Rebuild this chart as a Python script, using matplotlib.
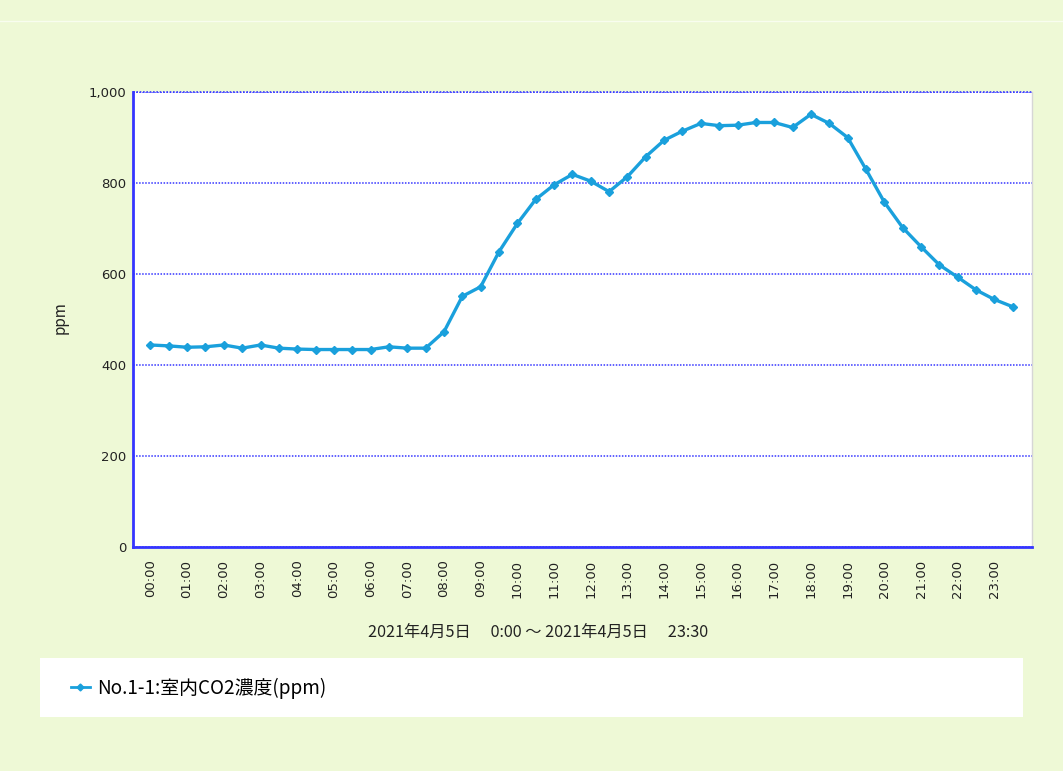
import matplotlib
matplotlib.use("Agg")
import matplotlib.pyplot as plt
from matplotlib.ticker import FuncFormatter
from matplotlib.patches import Rectangle
from matplotlib.lines import Line2D

plt.rcParams['font.family'] = ['Noto Sans CJK JP', 'DejaVu Sans']

# half-hourly readings, 00:00 .. 23:30
co2 = [444, 442, 439, 440, 444, 437, 444, 437, 435, 434, 434, 434,
       434, 440, 437, 437, 473, 551, 572, 649, 711, 764, 796, 819,
       804, 781, 814, 858, 894, 914, 931, 926, 927, 933, 933, 922,
       951, 931, 900, 830, 758, 702, 660, 620, 593, 565, 544, 528]
hour_labels = ["%02d:00" % h for h in range(24)]
y_ticks = [0, 200, 400, 600, 800, 1000]
series_name = "No.1-1:室内CO2濃度(ppm)"
period_text = "2021年4月5日\u3000 0:00 ～ 2021年4月5日\u3000 23:30"

bg = '#eef9d6'
line_col = '#1aa0dc'
blue = '#3535ff'

fig = plt.figure(figsize=(10.63, 7.71), dpi=100, facecolor=bg)
# faint line near the top
fig.add_artist(Line2D([0, 1], [1 - 21 / 771] * 2, color='#f8fdef', lw=1))

ax = fig.add_axes([133 / 1063, 1 - 547 / 771, 899 / 1063, 455 / 771])
ax.set_facecolor('white')

x = list(range(len(co2)))
ax.plot(x, co2, color=line_col, lw=2.4, marker='D', ms=4.5,
        mec=line_col, mfc=line_col, solid_joinstyle='round')

ax.set_xlim(-0.95, 48.05)
ax.set_ylim(0, 1000)
ax.set_yticks(y_ticks)
ax.yaxis.set_major_formatter(FuncFormatter(lambda v, p: format(int(v), ',')))
ax.set_xticks(range(0, 48, 2))
ax.set_xticklabels(hour_labels, rotation=90, family='DejaVu Sans')
for t in ax.get_yticklabels():
    t.set_family('DejaVu Sans')
ax.tick_params(axis='both', length=0, labelsize=9.5, colors='#222222')
ax.tick_params(axis='x', pad=9)
ax.tick_params(axis='y', pad=5)

ax.grid(axis='y', color=blue, ls=(0, (1, 1)), lw=1.1)
ax.set_axisbelow(True)
ax.axhline(1000, color=blue, ls=(0, (1, 1)), lw=1.2, clip_on=False)

for s in ('left', 'bottom'):
    ax.spines[s].set_color(blue)
    ax.spines[s].set_linewidth(2)
ax.spines['top'].set_visible(False)
ax.spines['right'].set_color('#d6d6d6')
ax.spines['right'].set_linewidth(1)

fig.text(60 / 1063, 1 - 318 / 771, "ppm", rotation=90, ha='center',
         va='center', fontsize=11, color='#222222')
fig.text(538 / 1063, 1 - 632 / 771, period_text, ha='center', va='center',
         fontsize=11.7, color='#222222')

# legend box
fig.add_artist(Rectangle((40 / 1063, 1 - 717 / 771), 983 / 1063, 59 / 771,
                         transform=fig.transFigure, facecolor='white',
                         edgecolor='none'))
handle = Line2D([], [], color=line_col, lw=2, marker='D', ms=3.5)
fig.legend([handle], [series_name], loc='center left',
           bbox_to_anchor=(54 / 1063, 1 - 688 / 771), frameon=False,
           handlelength=1.0, handletextpad=0.4, prop={'size': 13.6})

fig.savefig("out.png", dpi=100, facecolor=bg)
